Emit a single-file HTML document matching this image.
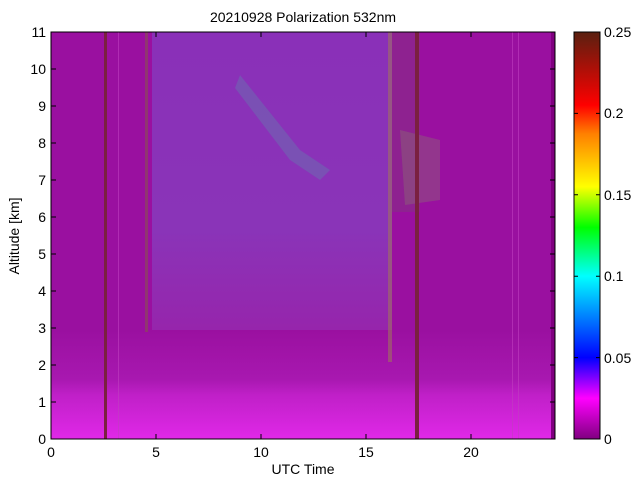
<!DOCTYPE html>
<html><head><style>
body{margin:0;background:#fff;width:640px;height:480px;overflow:hidden;font-family:"Liberation Sans",sans-serif}
</style></head><body>
<svg width="640" height="480" xmlns="http://www.w3.org/2000/svg" font-family="Liberation Sans, sans-serif" font-size="14">
<defs>
<linearGradient id="cb" x1="0" y1="1" x2="0" y2="0">
<stop offset="0" stop-color="#800080"/>
<stop offset="0.1" stop-color="#ff00ff"/>
<stop offset="0.2" stop-color="#0000ff"/>
<stop offset="0.4" stop-color="#00ffff"/>
<stop offset="0.52" stop-color="#00ff00"/>
<stop offset="0.62" stop-color="#ffff00"/>
<stop offset="0.75" stop-color="#ff8000"/>
<stop offset="0.82" stop-color="#ff0000"/>
<stop offset="1" stop-color="#5a2010"/>
</linearGradient>
<linearGradient id="mid" x1="0" y1="0" x2="0" y2="1">
<stop offset="0" stop-color="#8a30b8"/>
<stop offset="0.6" stop-color="#8a34b8"/>
<stop offset="1" stop-color="#9a20a8"/>
</linearGradient>
<linearGradient id="low" x1="0" y1="0" x2="0" y2="1">
<stop offset="0" stop-color="#9a10a0"/>
<stop offset="0.45" stop-color="#a818b0"/>
<stop offset="0.6" stop-color="#c020c8"/>
<stop offset="1" stop-color="#e028e8"/>
</linearGradient>
</defs>
<rect x="51" y="32" width="504" height="407" fill="#9a10a0"/>
<rect x="152" y="32" width="240" height="330" fill="url(#mid)"/>
<rect x="392" y="32" width="28" height="180" fill="#8e2290"/>
<rect x="51" y="330" width="504" height="109" fill="url(#low)"/>
<rect x="551" y="32" width="4" height="407" fill="#800080"/>
<path d="M240 75 L300 150 L330 170 L320 180 L290 160 L235 88Z" fill="#6a70b0" opacity="0.5"/>
<path d="M400 130 L440 140 L440 200 L405 205Z" fill="#8a7070" opacity="0.4"/>
<rect x="104" y="32" width="3" height="407" fill="#7a2040"/>
<rect x="118" y="32" width="1" height="407" fill="#c040c0" opacity="0.6"/>
<rect x="145" y="32" width="3" height="300" fill="#8a5050" opacity="0.6"/>
<rect x="388" y="32" width="4" height="330" fill="#a07060" opacity="0.6"/>
<rect x="415" y="32" width="4" height="407" fill="#7a2040"/>
<rect x="512" y="32" width="1" height="407" fill="#c040c0" opacity="0.6"/>
<rect x="518" y="32" width="1" height="407" fill="#c040c0" opacity="0.6"/>
<rect x="51" y="32" width="504" height="407" fill="none" stroke="#000" stroke-width="1"/>
<g stroke="#000">
<path d="M51 439h5M51 402h5M51 365h5M51 328h5M51 291h5M51 254h5M51 217h5M51 180h5M51 143h5M51 106h5M51 69h5M51 32h5"/>
<path d="M555 439h-5M555 402h-5M555 365h-5M555 328h-5M555 291h-5M555 254h-5M555 217h-5M555 180h-5M555 143h-5M555 106h-5M555 69h-5M555 32h-5"/>
<path d="M51 439v-5M156 439v-5M261 439v-5M366 439v-5M471 439v-5M51 32v5M156 32v5M261 32v5M366 32v5M471 32v5"/>
</g>
<g text-anchor="end" font-size="14">
<text x="46" y="444">0</text><text x="46" y="407">1</text><text x="46" y="370">2</text><text x="46" y="333">3</text><text x="46" y="296">4</text><text x="46" y="259">5</text><text x="46" y="222">6</text><text x="46" y="185">7</text><text x="46" y="148">8</text><text x="46" y="111">9</text><text x="46" y="74">10</text><text x="46" y="37">11</text>
</g>
<g text-anchor="middle" font-size="14">
<text x="51" y="457">0</text><text x="156" y="457">5</text><text x="261" y="457">10</text><text x="366" y="457">15</text><text x="471" y="457">20</text>
<text x="303" y="474">UTC Time</text>
<text x="303" y="22">20210928 Polarization 532nm</text>
</g>
<text transform="translate(19 236) rotate(-90)" text-anchor="middle" font-size="14">Altitude [km]</text>
<rect x="574" y="32" width="26" height="407" fill="url(#cb)" stroke="#000"/>
<g stroke="#000">
<path d="M574 357.6h4M574 276.2h4M574 194.8h4M574 113.4h4M600 357.6h-4M600 276.2h-4M600 194.8h-4M600 113.4h-4"/>
</g>
<g font-size="14">
<text x="604" y="444">0</text><text x="604" y="363">0.05</text><text x="604" y="281">0.1</text><text x="604" y="200">0.15</text><text x="604" y="118">0.2</text><text x="604" y="37">0.25</text>
</g>
</svg>
</body></html>
